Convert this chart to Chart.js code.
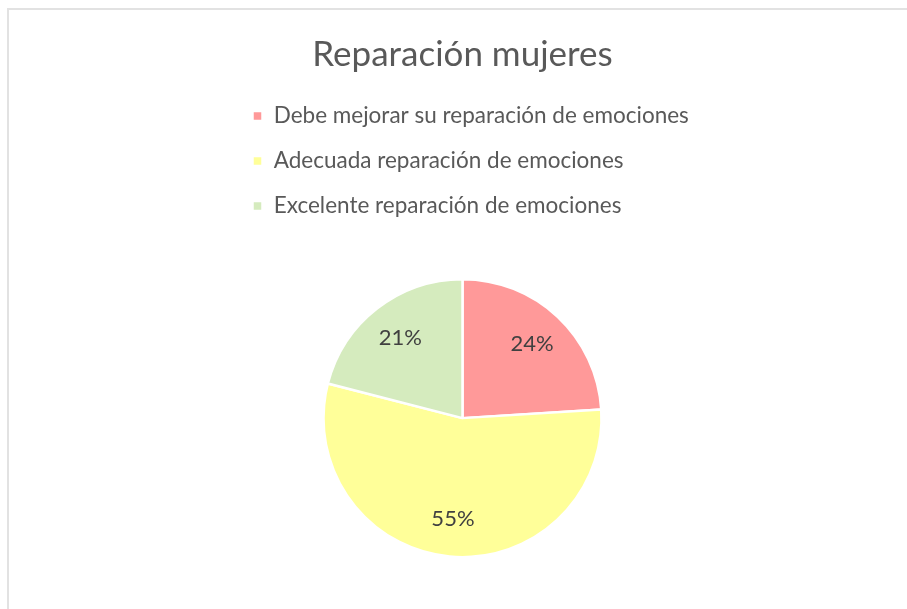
<!DOCTYPE html>
<html>
<head>
<meta charset="utf-8">
<script src="https://cdn.jsdelivr.net/npm/chart.js@4/dist/chart.umd.min.js"></script>
<style>
  html, body { margin: 0; padding: 0; background: #fff; overflow: hidden; }
  body { width: 907px; height: 609px; position: relative; }
  .frame { position: absolute; left: 7px; top: 8px; width: 1000px; height: 700px; border: 2px solid #e2e2e2; box-sizing: border-box; }
  .wrap { position: absolute; left: 229.5px; top: 0; width: 465px; height: 609px; }
</style>
</head>
<body>
<div class="frame"></div>
<div class="wrap"><canvas id="pieChart"></canvas></div>
<script>
const categories = [
  "Debe mejorar su reparación de emociones",
  "Adecuada reparación de emociones",
  "Excelente reparación de emociones",
];
const percentages = [24, 55, 21];
const sliceColors = ["#ff9999", "#ffff99", "#d5ebbe"];

// etiquetas de porcentaje dentro de cada sector
const sliceLabels = {
  id: "sliceLabels",
  afterDatasetsDraw(chart) {
    const { ctx } = chart;
    const meta = chart.getDatasetMeta(0);
    ctx.save();
    ctx.font = "22px Lato";
    ctx.fillStyle = "#404040";
    ctx.textAlign = "center";
    ctx.textBaseline = "middle";
    meta.data.forEach((arc, i) => {
      const { x, y, startAngle, endAngle, outerRadius } = arc.getProps(
        ["x", "y", "startAngle", "endAngle", "outerRadius"], true);
      const mid = (startAngle + endAngle) / 2;
      const r = outerRadius * 0.73;
      ctx.fillText(percentages[i] + "%", x + Math.cos(mid) * r, y + Math.sin(mid) * r);
    });
    ctx.restore();
  },
};

const ctx = document.getElementById("pieChart").getContext("2d");
new Chart(ctx, {
  type: "pie",
  data: {
    labels: categories,
    datasets: [
      {
        data: percentages,
        backgroundColor: sliceColors,
        borderColor: "#ffffff",
        borderWidth: 2.5,
        radius: 139,
      },
    ],
  },
  options: {
    responsive: true,
    maintainAspectRatio: false,
    animation: false,
    layout: { padding: 0 },
    plugins: {
      title: {
        display: true,
        text: "Reparación mujeres",
        color: "#595959",
        font: { family: "Lato", size: 35, weight: "normal" },
        padding: { top: 34, bottom: 6.25 },
      },
      legend: {
        position: "top",
        align: "start",
        labels: {
          color: "#595959",
          font: { family: "Lato", size: 22.5 },
          boxWidth: 10,
          boxHeight: 10,
          padding: 22.5,
        },
      },
      tooltip: { enabled: false },
    },
  },
  plugins: [sliceLabels],
});
</script>
</body>
</html>
